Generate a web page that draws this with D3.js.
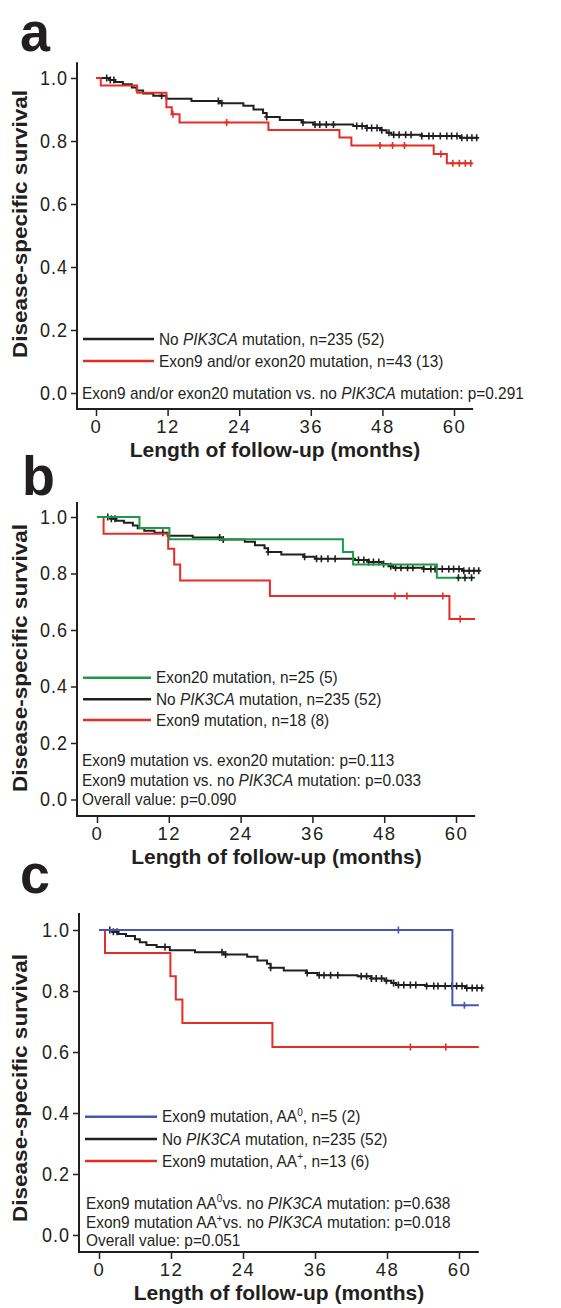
<!DOCTYPE html>
<html>
<head>
<meta charset="utf-8">
<script src="https://cdnjs.cloudflare.com/ajax/libs/d3/7.8.5/d3.min.js"></script>
<style>
  body { margin: 0; background: #fff; }
  svg { display: block; font-family: "Liberation Sans", Arial, Helvetica, sans-serif; }
</style>
</head>
<body>
<svg width="561" height="1308"></svg>
<script>
// axis ticks
var monthTicks = [0, 12, 24, 36, 48, 60];
var survTicks = [0, 0.2, 0.4, 0.6, 0.8, 1.0];

// No PIK3CA mutation (same group in all three panels)
var noMutTimes  = [2.3, 3.2, 4.5, 6.0, 6.8, 7.9, 9.6, 11.8, 16.0, 20.8, 24.7, 26.4, 28.0, 28.6, 30.8, 34.5, 36.4, 43.1, 45.4, 47.6, 48.7, 49.5, 54.6, 61.0];
var noMutSurv   = [0.994, 0.987, 0.980, 0.970, 0.960, 0.951, 0.944, 0.934, 0.927, 0.920, 0.912, 0.900, 0.889, 0.876, 0.867, 0.859, 0.852, 0.848, 0.841, 0.834, 0.826, 0.820, 0.816, 0.810];
var noMutCensor = [1.8, 2.4, 3.0, 11.0, 20.5, 21.1, 28.6, 34.7, 36.7, 37.5, 38.6, 39.8, 43.7, 44.6, 45.4, 46.2, 47.1, 47.9, 49.1, 49.9, 50.8, 51.9, 52.8, 54.6, 55.8, 56.5, 57.7, 58.8, 59.6, 60.5, 61.3, 62.2, 63.0, 63.8];
var noMutEnd = 64;

// a: exon9 and/or exon20
var ex920Times  = [0.8, 6.9, 11.8, 12.7, 14.0, 28.9, 40.8, 42.8, 56.6, 58.8];
var ex920Surv   = [0.976, 0.953, 0.907, 0.885, 0.859, 0.835, 0.811, 0.786, 0.759, 0.729];
var ex920Censor = [12.9, 21.9, 47.6, 49.7, 51.7, 57.8, 59.8, 60.9, 61.9, 62.8];
var ex920End = 63;

// b: exon20 only, exon9 only
var ex20Times  = [7.1, 12.1, 41.1, 42.8, 56.8];
var ex20Surv   = [0.961, 0.921, 0.876, 0.832, 0.785];
var ex20Censor = [60.4, 61.5, 62.6];
var ex20End = 63.2;

var ex9Times  = [1.1, 11.9, 12.9, 13.9, 28.9, 58.9];
var ex9Surv   = [0.941, 0.888, 0.832, 0.775, 0.720, 0.639];
var ex9Censor = [49.8, 51.8, 57.8, 60.7];
var ex9End = 63.2;

// c: exon9 AA0 / AA+
var aa0Times  = [58.9];
var aa0Surv   = [0.753];
var aa0Censor = [49.9, 60.9];
var aa0End = 63.3;

var aaPlusTimes  = [1.0, 11.9, 12.8, 13.9, 28.9];
var aaPlusSurv   = [0.925, 0.848, 0.772, 0.695, 0.616];
var aaPlusCensor = [51.9, 57.8];
var aaPlusEnd = 63.3;

var ink = "#231f20", red = "#e42d26", green = "#1a9c46", blue = "#4757b0";
var svg = d3.select("svg");

function stepAt(times, surv, t) {
  var s = 1;
  times.forEach(function(d, i) { if (d <= t) s = surv[i]; });
  return s;
}

// writes "<i>..</i>" and "<sup>..</sup>" parts as tspans
function rich(text, str) {
  var parts = str.split(/(<i>.*?<\/i>|<sup>.*?<\/sup>)/);
  var lift = 0;
  parts.forEach(function(p) {
    if (!p) return;
    var t = text.append("tspan");
    if (lift) { t.attr("dy", lift); lift = 0; }
    if (p.indexOf("<i>") === 0) {
      t.style("font-style", "italic").text(p.replace(/<\/?i>/g, ""));
    } else if (p.indexOf("<sup>") === 0) {
      t.attr("dy", -6).style("font-size", "10px").text(p.replace(/<\/?sup>/g, ""));
      lift = 6;
    } else {
      t.text(p);
    }
  });
}

function drawCurve(g, x, y, c) {
  var pts = [[0, 1]];
  c.times.forEach(function(t, i) { pts.push([t, c.surv[i]]); });
  pts.push([c.end, c.surv[c.surv.length - 1]]);
  var line = d3.line()
      .x(function(d) { return x(d[0]); })
      .y(function(d) { return y(d[1]); })
      .curve(d3.curveStepAfter);
  g.append("path")
      .attr("d", line(pts))
      .attr("fill", "none")
      .attr("stroke", c.color)
      .attr("stroke-width", 2);
  g.append("g").selectAll("path")
    .data(c.censor)
    .enter().append("path")
      .attr("d", function(t) {
        var cx = x(t), cy = y(stepAt(c.times, c.surv, t));
        return "M" + (cx - 2.5) + "," + cy + "H" + (cx + 2.5) + "M" + cx + "," + (cy - 3.5) + "V" + (cy + 3.5);
      })
      .attr("stroke", c.mark || c.color)
      .attr("stroke-width", 1.6);
}

function panel(p) {
  var g = svg.append("g");
  var x = d3.scaleLinear().domain([0, 60]).range([p.x0, p.x60]);
  var y = d3.scaleLinear().domain([0, 1]).range([p.y0, p.y1]);

  g.append("text")
      .attr("transform", "translate(" + p.letterX + "," + p.letterY + ") scale(1.1,1.15)")
      .attr("fill", ink)
      .style("font-size", "49px")
      .style("font-weight", "bold")
      .text(p.letter);

  // y axis
  var ya = g.append("g")
      .attr("transform", "translate(" + p.axisX + ",0)")
      .call(d3.axisLeft(y).tickValues(survTicks).tickSize(6).tickPadding(3).tickFormat(d3.format(".1f")));
  ya.select(".domain").remove();
  ya.attr("font-family", null).attr("font-size", null);
  ya.selectAll("line").attr("stroke", ink).attr("stroke-width", 1.5);
  ya.selectAll("text")
      .attr("fill", ink)
      .attr("transform", "scale(1,1.1)")
      .style("font-size", "18px")
      .style("letter-spacing", "1px");

  // x axis
  var xa = g.append("g")
      .attr("transform", "translate(0," + p.axisY + ")")
      .call(d3.axisBottom(x).tickValues(monthTicks).tickSize(7).tickPadding(4));
  xa.select(".domain").remove();
  xa.attr("font-family", null).attr("font-size", null);
  xa.selectAll("line").attr("stroke", ink).attr("stroke-width", 1.5);
  xa.selectAll("text")
      .attr("fill", ink)
      .style("font-size", "18.5px")
      .style("letter-spacing", "1.5px");

  // L-shaped frame
  g.append("path")
      .attr("d", "M" + p.axisX + "," + y(p.yTop) + "V" + p.axisY + "H" + x(p.xEnd))
      .attr("fill", "none")
      .attr("stroke", ink)
      .attr("stroke-width", 2);

  g.append("text")
      .attr("x", x(30))
      .attr("y", p.axisY + 47.5)
      .attr("text-anchor", "middle")
      .attr("fill", ink)
      .style("font-size", "21px")
      .style("font-weight", "bold")
      .text("Length of follow-up (months)");

  g.append("text")
      .attr("transform", "translate(27," + p.titleY + ") scale(1,1.1) rotate(-90)")
      .attr("text-anchor", "middle")
      .attr("fill", ink)
      .style("font-size", "20.5px")
      .style("font-weight", "bold")
      .text("Disease-specific survival");

  // legend
  p.legend.forEach(function(d, i) {
    var ly = p.legendY[i];
    g.append("line")
        .attr("x1", p.legX1).attr("x2", p.legX2)
        .attr("y1", ly).attr("y2", ly)
        .attr("stroke", d.color)
        .attr("stroke-width", 2.5);
    var t = g.append("text")
        .attr("transform", "translate(" + (p.legX2 + 5) + "," + (ly + 5.5) + ") scale(1,1.1)")
        .attr("fill", ink)
        .style("font-size", "15.4px");
    rich(t, d.label);
  });

  p.stats.forEach(function(s, i) {
    var t = g.append("text")
        .attr("transform", "translate(" + p.statX + "," + (p.statY[i] + 5.5) + ") scale(1,1.1)")
        .attr("fill", ink)
        .style("font-size", "15.4px");
    rich(t, s);
  });

  var cg = g.append("g");
  p.curves.forEach(function(c) { drawCurve(cg, x, y, c); });
}

var noMut = { times: noMutTimes, surv: noMutSurv, censor: noMutCensor, end: noMutEnd, color: ink };
var noMutLabel = "No <i>PIK3CA</i> mutation, n=235 (52)";

panel({
  letter: "a", letterX: 20, letterY: 51,
  x0: 96, x60: 454, y0: 393, y1: 78, axisX: 77, axisY: 409, yTop: 1.05, xEnd: 63.2, titleY: 224,
  legX1: 83, legX2: 154, legendY: [339, 361],
  legend: [
    { label: noMutLabel, color: ink },
    { label: "Exon9 and/or exon20 mutation, n=43 (13)", color: red }
  ],
  statX: 82, statY: [393],
  stats: ["Exon9 and/or exon20 mutation vs. no <i>PIK3CA</i> mutation: p=0.291"],
  curves: [
    noMut,
    { times: ex920Times, surv: ex920Surv, censor: ex920Censor, end: ex920End, color: red }
  ]
});

panel({
  letter: "b", letterX: 22, letterY: 495,
  x0: 97, x60: 456, y0: 799.5, y1: 517, axisX: 77, axisY: 816, yTop: 1.053, xEnd: 63.2, titleY: 658,
  legX1: 83, legX2: 151, legendY: [677.7, 699.3, 720],
  legend: [
    { label: "Exon20 mutation, n=25 (5)", color: green },
    { label: noMutLabel, color: ink },
    { label: "Exon9 mutation, n=18 (8)", color: red }
  ],
  statX: 82, statY: [760, 780.7, 799.3],
  stats: [
    "Exon9 mutation vs. exon20 mutation: p=0.113",
    "Exon9 mutation vs. no <i>PIK3CA</i> mutation: p=0.033",
    "Overall value: p=0.090"
  ],
  curves: [
    noMut,
    { times: ex9Times, surv: ex9Surv, censor: ex9Censor, end: ex9End, color: red },
    { times: ex20Times, surv: ex20Surv, censor: ex20Censor, end: ex20End, color: green, mark: ink }
  ]
});

panel({
  letter: "c", letterX: 20, letterY: 893,
  x0: 99, x60: 459, y0: 1235, y1: 930, axisX: 79, axisY: 1252, yTop: 1.056, xEnd: 63.3, titleY: 1088,
  legX1: 85, legX2: 157, legendY: [1116.7, 1139, 1161],
  legend: [
    { label: "Exon9 mutation, AA<sup>0</sup>, n=5 (2)", color: blue },
    { label: noMutLabel, color: ink },
    { label: "Exon9 mutation, AA<sup>+</sup>, n=13 (6)", color: red }
  ],
  statX: 86, statY: [1203, 1222.7, 1240],
  stats: [
    "Exon9 mutation AA<sup>0</sup>vs. no <i>PIK3CA</i> mutation: p=0.638",
    "Exon9 mutation AA<sup>+</sup>vs. no <i>PIK3CA</i> mutation: p=0.018",
    "Overall value: p=0.051"
  ],
  curves: [
    noMut,
    { times: aaPlusTimes, surv: aaPlusSurv, censor: aaPlusCensor, end: aaPlusEnd, color: red },
    { times: aa0Times, surv: aa0Surv, censor: aa0Censor, end: aa0End, color: blue }
  ]
});
</script>
</body>
</html>
